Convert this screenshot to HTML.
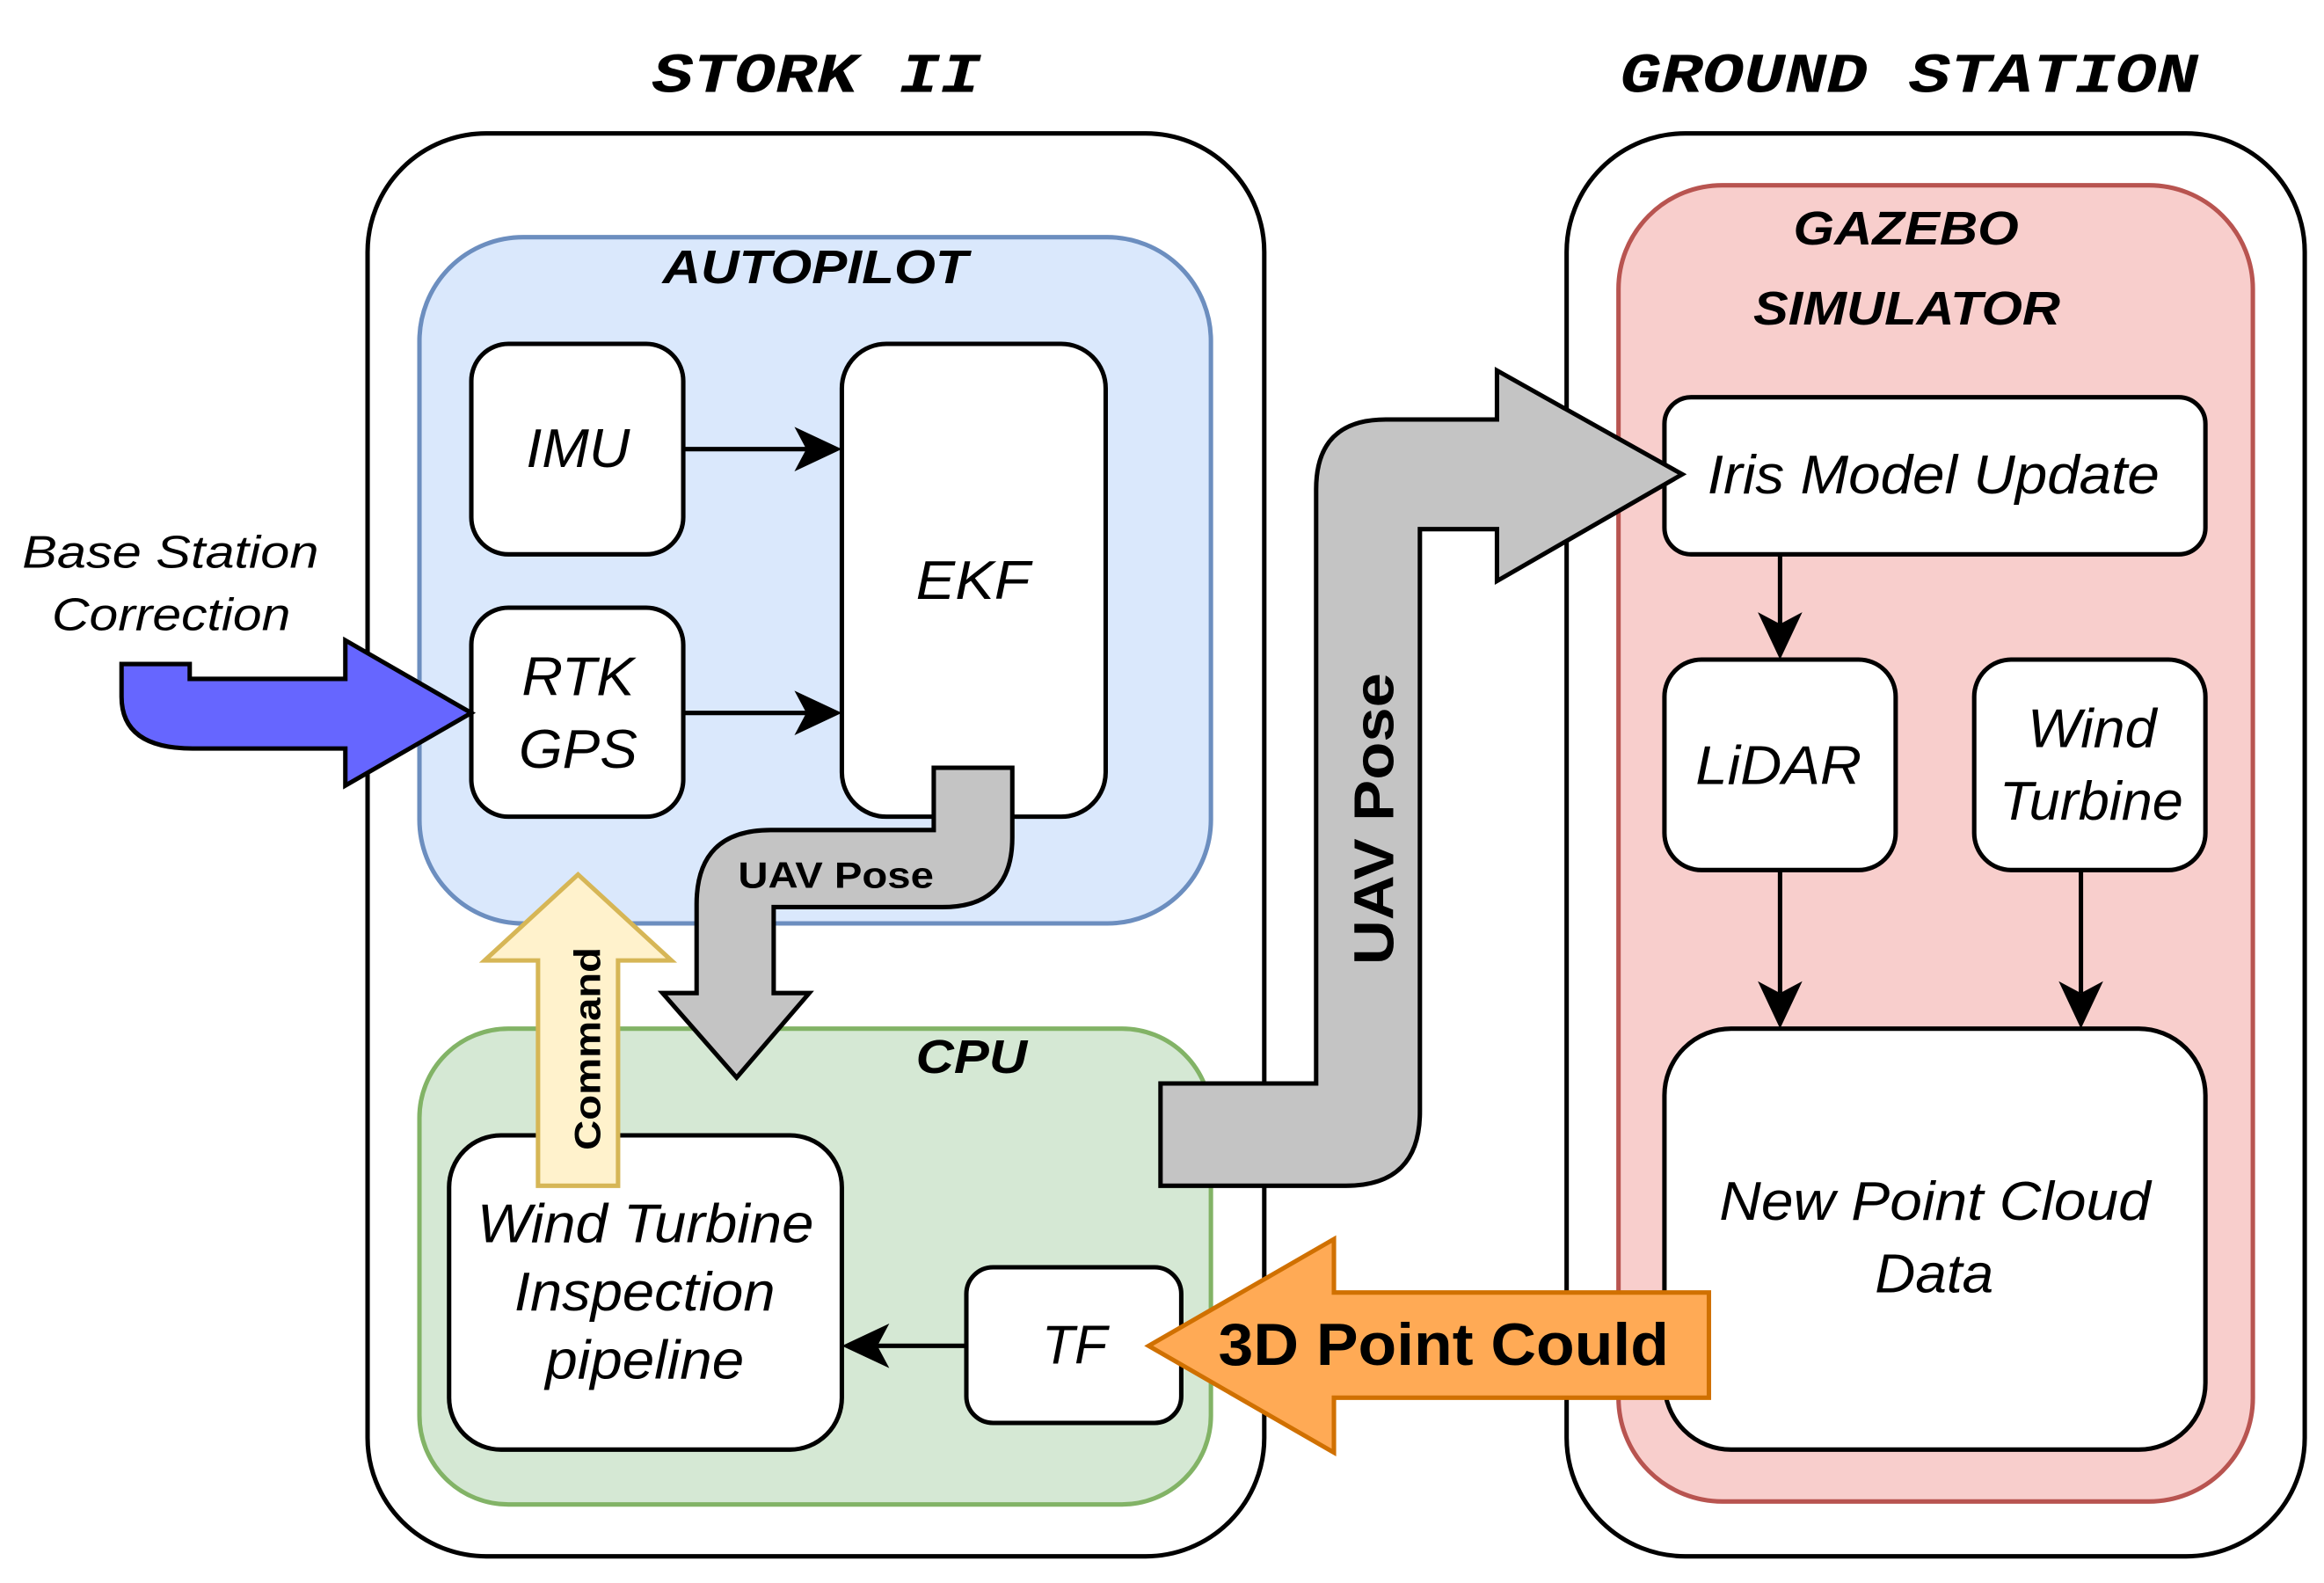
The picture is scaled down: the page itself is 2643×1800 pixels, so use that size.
<!DOCTYPE html>
<html><head><meta charset="utf-8"><style>html,body{margin:0;padding:0;background:#fff}svg{display:block}</style></head>
<body>
<svg width="2643" height="1800" viewBox="0 0 1568 1068" preserveAspectRatio="none" xmlns="http://www.w3.org/2000/svg" font-family="Liberation Sans, sans-serif">
<rect width="1568" height="1068" fill="#fff"/>
<g lengthAdjust="spacingAndGlyphs">
<text x="440" y="62" textLength="222" lengthAdjust="spacingAndGlyphs" font-family="Liberation Mono, monospace" font-weight="bold" font-style="italic" font-size="38">STORK II</text>
<text x="1093" y="62" textLength="390" lengthAdjust="spacingAndGlyphs" font-family="Liberation Mono, monospace" font-weight="bold" font-style="italic" font-size="38">GROUND STATION</text>
</g>
<rect x="248" y="90" width="605" height="960" rx="80" fill="#fff" stroke="#000" stroke-width="3"/>
<rect x="1057" y="90" width="498" height="960" rx="80" fill="#fff" stroke="#000" stroke-width="3"/>
<rect x="283" y="160" width="534" height="463" rx="70" fill="#dae8fc" stroke="#6c8ebf" stroke-width="3"/>
<text x="447" y="191" textLength="206" lengthAdjust="spacingAndGlyphs" font-weight="bold" font-style="italic" font-size="32">AUTOPILOT</text>
<rect x="283" y="694" width="534" height="321" rx="60" fill="#d5e8d4" stroke="#82b366" stroke-width="3"/>
<text x="618" y="724" textLength="75" lengthAdjust="spacingAndGlyphs" font-weight="bold" font-style="italic" font-size="32">CPU</text>
<rect x="1092" y="125" width="428" height="888" rx="70" fill="#f8cecc" stroke="#b85450" stroke-width="3"/>
<text x="1210" y="165" textLength="152" lengthAdjust="spacingAndGlyphs" font-weight="bold" font-style="italic" font-size="32">GAZEBO</text>
<text x="1183" y="219" textLength="207" lengthAdjust="spacingAndGlyphs" font-weight="bold" font-style="italic" font-size="32">SIMULATOR</text>
<g fill="#fff" stroke="#000" stroke-width="3">
<rect x="318" y="232" width="143" height="142" rx="25"/>
<rect x="318" y="410" width="143" height="141" rx="25"/>
<rect x="568" y="232" width="178" height="319" rx="30"/>
<rect x="303" y="766" width="265" height="212" rx="35"/>
<rect x="652" y="855" width="145" height="105" rx="18"/>
<rect x="1123" y="268" width="365" height="106" rx="18"/>
<rect x="1123" y="445" width="156" height="142" rx="25"/>
<rect x="1332" y="445" width="156" height="142" rx="25"/>
<rect x="1123" y="694" width="365" height="284" rx="45"/>
</g>
<g font-style="italic" font-size="37">
<text x="355" y="315" textLength="70" lengthAdjust="spacingAndGlyphs">IMU</text>
<text x="352" y="469" textLength="76" lengthAdjust="spacingAndGlyphs">RTK</text>
<text x="350" y="518" textLength="80" lengthAdjust="spacingAndGlyphs">GPS</text>
<text x="618" y="404" textLength="77" lengthAdjust="spacingAndGlyphs">EKF</text>
<text x="322" y="838" textLength="227" lengthAdjust="spacingAndGlyphs">Wind Turbine</text>
<text x="347" y="884" textLength="176" lengthAdjust="spacingAndGlyphs">Inspection</text>
<text x="368" y="930" textLength="134" lengthAdjust="spacingAndGlyphs">pipeline</text>
<text x="703" y="920" textLength="44" lengthAdjust="spacingAndGlyphs">TF</text>
<text x="1152" y="333" textLength="305" lengthAdjust="spacingAndGlyphs">Iris Model Update</text>
<text x="1144" y="529" textLength="112" lengthAdjust="spacingAndGlyphs">LiDAR</text>
<text x="1368" y="504" textLength="87" lengthAdjust="spacingAndGlyphs">Wind</text>
<text x="1349" y="553" textLength="124" lengthAdjust="spacingAndGlyphs">Turbine</text>
<text x="1160" y="823" textLength="291" lengthAdjust="spacingAndGlyphs">New Point Cloud</text>
<text x="1265" y="872" textLength="80" lengthAdjust="spacingAndGlyphs">Data</text>
<text x="15" y="383" font-size="31" textLength="200" lengthAdjust="spacingAndGlyphs">Base Station</text>
<text x="35" y="425" font-size="31" textLength="161" lengthAdjust="spacingAndGlyphs">Correction</text>
</g>
<g stroke="#000" stroke-width="3" fill="none">
<line x1="461" y1="303" x2="545" y2="303"/>
<line x1="461" y1="481" x2="545" y2="481"/>
<line x1="652" y1="908" x2="592" y2="908"/>
<line x1="1201" y1="374" x2="1201" y2="422"/>
<line x1="1201" y1="587" x2="1201" y2="670"/>
<line x1="1404" y1="587" x2="1404" y2="670"/>
</g>
<g fill="#000">
<path d="M568,303 L536,288 L544,303 L536,318 Z"/>
<path d="M568,481 L536,466 L544,481 L536,496 Z"/>
<path d="M568,908 L600,893 L592,908 L600,923 Z"/>
<path d="M1201,445 L1186,413 L1201,421 L1216,413 Z"/>
<path d="M1201,694 L1186,662 L1201,670 L1216,662 Z"/>
<path d="M1404,694 L1389,662 L1404,670 L1419,662 Z"/>
</g>
<path d="M82,448 L128,448 L128,458 L233,458 L233,432 L318,481 L233,530 L233,505 L130,505 Q82,505 82,470 Z" fill="#6666ff" stroke="#000" stroke-width="3"/>
<path d="M630,518 L683,518 L683,565 Q683,612 636,612 L522,612 L522,670 L546,670 L497,727 L447,670 L470,670 L470,610 Q470,560 520,560 L630,560 Z" fill="#c4c4c4" stroke="#000" stroke-width="3"/>
<text x="498" y="599" textLength="132" lengthAdjust="spacingAndGlyphs" font-weight="bold" font-size="25">UAV Pose</text>
<path d="M783,731 L888,731 L888,330 Q888,283 935,283 L1010,283 L1010,250 L1135,320 L1010,392 L1010,357 L958,357 L958,750 Q958,800 908,800 L783,800 Z" fill="#c4c4c4" stroke="#000" stroke-width="3"/>
<text transform="translate(940,553) rotate(-90)" x="-98" textLength="197" lengthAdjust="spacingAndGlyphs" font-weight="bold" font-size="38">UAV Pose</text>
<path d="M363,800 L363,648 L327,648 L390,590 L453,648 L417,648 L417,800 Z" fill="#fff2cc" stroke="#d6b656" stroke-width="3"/>
<text transform="translate(405,708) rotate(-90)" x="-68" textLength="137" lengthAdjust="spacingAndGlyphs" font-weight="bold" font-size="25">Command</text>
<path d="M1153,872 L1153,943 L900,943 L900,980 L775,908 L900,836 L900,872 Z" fill="#ffaa55" stroke="#d07000" stroke-width="3"/>
<text x="822" y="921" textLength="304" lengthAdjust="spacingAndGlyphs" font-weight="bold" font-size="40">3D Point Could</text>
</svg>
</body></html>
